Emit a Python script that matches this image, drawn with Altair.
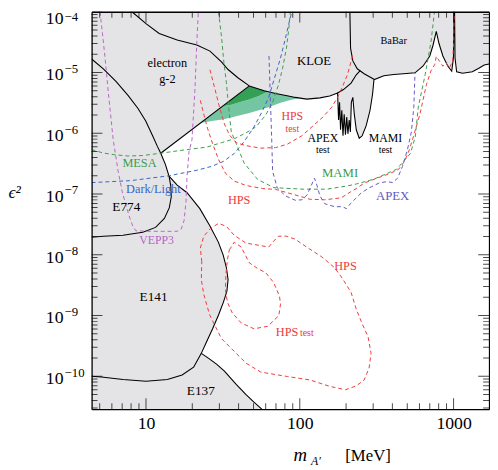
import json
import altair as alt
import pandas as pd

FONT = "Liberation Serif"
W = H = 404

X_MIN, X_MAX = 4.43, 1700.0
Y_MIN, Y_MAX = 2.87e-11, 1e-4

# ---------------- tick values / labels ----------------
x_major = [10, 100, 1000]
x_minor = [5, 6, 7, 8, 9, 20, 30, 40, 50, 60, 70, 80, 90,
           200, 300, 400, 500, 600, 700, 800, 900]
y_major = [1e-10, 1e-9, 1e-8, 1e-7, 1e-6, 1e-5, 1e-4]
y_major_exponents = ["−10", "−9", "−8", "−7", "−6", "−5", "−4"]
y_minor = [k * 10.0 ** e for e in range(-11, -4) for k in range(2, 10)
           if Y_MIN <= k * 10.0 ** e <= Y_MAX]

# ---------------- colours ----------------
GREY = "#e4e4e6"
RED = "#ee3a3a"
GREEN = "#3d9c4a"
BLUE = "#3565c5"
APEXC = "#6259c0"
MAG = "#b964c6"
DARK_GREEN = "#33a055"
LIGHT_GREEN = "#74c6a3"

# ---------------- allowed (white) region, three pieces ----------------
allowed_a_x = [12.47, 13.37, 14.12, 15.95, 18.49, 22.39, 25.94, 29.49, 31.74, 33.33, 34.17]
allowed_a_hi = [4.69e-7, 5.36e-7, 5.95e-7, 7.53e-7, 1.0e-6, 1.45e-6, 1.92e-6, 2.46e-6, 2.83e-6, 3.11e-6, 3.26e-6]
allowed_a_lo = [4.69e-7, 3.08e-7, 1.97e-7, 1.40e-7, 1.05e-7, 5.74e-8, 3.04e-8, 1.63e-8, 9.93e-9, 6.11e-9, 3.91e-9]

allowed_b_x = [22.89, 24.82, 27.11, 29.62, 31.88, 33.57, 34.17]
allowed_b_hi = [2.38e-10, 3.72e-10, 6.04e-10, 1.02e-9, 1.66e-9, 2.49e-9, 3.91e-9]
allowed_b_lo = [2.38e-10, 2.09e-10, 1.76e-10, 1.47e-10, 1.26e-10, 1.13e-10, 1.09e-10]

allowed_c_x = [34.17, 35.87, 38.61, 41.56, 44.74, 46.96, 50.34, 56.62, 58.58, 69.6,
               82.7, 93.5, 111.1, 135.1, 156.5, 176.1, 178.7, 181.4, 184.1, 187.6,
               191.0, 194.4, 198.2, 202.0, 205.6, 209.6, 213.3, 216.4, 221.3, 226.2,
               233.0, 243.5, 254.5, 269.9, 286.3, 297.1, 303.7, 351.9, 407.8, 472.5,
               561.3, 634.3, 700.3, 735.1, 771.8, 803.1, 851.9, 917.0, 972.5, 998.6,
               1006, 1015, 1022, 1047, 1144, 1325, 1469, 1582, 1702]
allowed_c_hi = [3.26e-6, 3.58e-6, 4.13e-6, 4.76e-6, 5.48e-6, 6.02e-6, 5.67e-6, 5.14e-6, 4.99e-6, 4.52e-6,
                4.14e-6, 3.89e-6, 3.65e-6, 3.82e-6, 4.11e-6, 4.60e-6, 1.65e-6, 3.23e-6, 1.14e-6, 2.39e-6,
                9.08e-7, 2.06e-6, 9.42e-7, 1.84e-6, 9.78e-7, 1.65e-6, 1.05e-6, 3.23e-6, 3.89e-6, 2.06e-6,
                1.14e-6, 8.27e-7, 9.08e-7, 1.32e-6, 2.39e-6, 4.35e-6, 7.61e-6, 8.84e-6, 9.28e-6, 9.53e-6,
                9.89e-6, 1.28e-5, 1.87e-5, 2.81e-5, 4.74e-5, 3.03e-5, 1.87e-5, 1.28e-5, 1.05e-5, 1.73e-5,
                1e-4, 1e-4, 1.73e-5, 1.03e-5, 9.71e-6, 1.03e-5, 1.19e-5, 1.33e-5, 1.38e-5]
allowed_c_lo = ([1.09e-10, 9.01e-11, 7.34e-11, 6.09e-11, 4.96e-11, 4.35e-11, 3.75e-11, 2.87e-11]
                + [Y_MIN] * (len(allowed_c_x) - 8))

# ---------------- muon g-2 favoured band ----------------
band_dark_x = [31.42, 35.87, 41.56, 46.96, 54.19, 61.85]
band_dark_hi = [2.77e-6, 3.58e-6, 4.76e-6, 6.02e-6, 5.34e-6, 4.85e-6]
band_dark_lo = [2.77e-6, 2.94e-6, 3.29e-6, 3.61e-6, 4.11e-6, 4.85e-6]
band_light_x = [22.59, 26.72, 31.42, 35.87, 41.56, 46.96, 54.19, 61.85, 74.93, 86.8, 100.7]
band_light_hi = [1.47e-6, 2.03e-6, 2.77e-6, 2.94e-6, 3.29e-6, 3.61e-6, 4.11e-6, 4.85e-6, 4.37e-6, 4.05e-6, 3.80e-6]
band_light_lo = [1.47e-6, 1.59e-6, 1.69e-6, 1.81e-6, 1.99e-6, 2.16e-6, 2.39e-6, 2.65e-6, 3.17e-6, 3.54e-6, 3.80e-6]

# ---------------- black outlines of excluded regions ----------------
left_bound_x = [4.43, 5.28, 6.40, 7.64, 8.85, 9.96, 11.04, 11.88, 12.47, 13.37, 14.12, 15.95, 18.49,
                22.39, 25.94, 29.49, 31.74, 33.33, 34.17, 33.57, 31.88, 29.62, 27.11, 24.82, 22.89,
                20.40, 17.17, 13.77, 10.0, 7.09, 5.13, 4.43]
left_bound_y = [1.67e-5, 1.15e-5, 7.07e-6, 4.19e-6, 2.58e-6, 1.59e-6, 9.08e-7, 6.02e-7, 4.69e-7, 3.08e-7,
                1.97e-7, 1.40e-7, 1.05e-7, 5.74e-8, 3.04e-8, 1.63e-8, 9.93e-9, 6.11e-9, 3.91e-9, 2.49e-9,
                1.66e-9, 1.02e-9, 6.04e-10, 3.72e-10, 2.38e-10, 1.41e-10, 1.05e-10, 8.85e-11, 8.27e-11,
                8.85e-11, 9.71e-11, 9.97e-11]
e774_x = [14.12, 14.50, 14.60, 14.18, 13.17, 11.54, 9.53, 7.09, 5.28, 4.43]
e774_y = [1.97e-7, 1.35e-7, 8.98e-8, 5.95e-8, 3.95e-8, 2.82e-8, 2.34e-8, 2.09e-8, 2.02e-8, 1.94e-8]
e137_x = [22.89, 25.56, 28.75, 32.36, 35.87, 38.61, 44.74, 50.34, 56.62]
e137_y = [2.38e-10, 1.97e-10, 1.58e-10, 1.21e-10, 9.01e-11, 7.34e-11, 4.96e-11, 3.75e-11, 2.87e-11]
g2_lower_x = [12.47, 46.96]
g2_lower_y = [4.69e-7, 6.02e-6]
g2_upper_x = [8.10, 10.0, 12.18, 15.95, 21.42, 26.06, 30.96, 34.17, 39.59, 46.96]
g2_upper_y = [1e-4, 6.39e-5, 4.40e-5, 3.42e-5, 2.84e-5, 2.25e-5, 1.49e-5, 1.12e-5, 8.20e-6, 6.02e-6]
babar_left_x = [211.7, 213.9, 221.3, 236.5, 262.1, 303.7]
babar_left_y = [1e-4, 2.51e-5, 1.55e-5, 1.15e-5, 9.53e-6, 7.76e-6]
kloe_edge_x = [176.1, 192.4, 215.5, 233.0, 247.1]
kloe_edge_y = [4.60e-6, 5.24e-6, 6.68e-6, 9.18e-6, 1.07e-5]

# ---------------- dashed projections ----------------
vepp3_x = [5.02, 5.21, 5.42, 5.69, 6.12, 6.59, 6.99, 7.42, 7.87, 8.22, 8.59, 10.25, 12.79, 15.95,
           16.92, 17.69, 18.22, 18.49, 19.04, 19.90, 20.80, 21.42, 21.90]
vepp3_y = [1e-4, 4.40e-5, 1.73e-5, 4.69e-6, 7.82e-7, 2.37e-7, 1.12e-7, 6.41e-8, 3.95e-8, 2.93e-8,
           2.48e-8, 2.43e-8, 2.43e-8, 2.43e-8, 2.62e-8, 3.66e-8, 7.74e-8, 1.97e-7, 4.99e-7, 7.82e-7,
           5.05e-6, 3.26e-5, 1e-4]
mesa_x = [4.43, 5.28, 6.30, 7.64, 9.53, 12.47, 17.43, 24.82, 30.96, 37.49, 44.74, 51.83, 60.06,
          66.59, 72.75, 77.17, 81.85, 84.9, 86.8]
mesa_y = [5.38e-7, 4.72e-7, 4.42e-7, 4.22e-7, 4.30e-7, 4.69e-7, 5.28e-7, 5.91e-7, 6.99e-7, 8.11e-7,
          1.015e-6, 1.27e-6, 1.99e-6, 3.23e-6, 6.32e-6, 1.15e-5, 2.51e-5, 5.30e-5, 1e-4]
darklight_x = [4.43, 7.98, 14.18, 21.42, 26.72, 31.88, 37.49, 43.44, 50.34, 56.62, 62.77, 68.58,
               74.93, 80.65, 85.5, 88.8]
darklight_y = [1.54e-7, 1.66e-7, 2.00e-7, 2.46e-7, 2.85e-7, 3.44e-7, 4.64e-7, 7.26e-7, 1.27e-6,
               2.22e-6, 3.89e-6, 8.20e-6, 1.73e-5, 3.65e-5, 6.89e-5, 1e-4]
mami_x = [29.62, 30.96, 32.12, 33.33, 34.32, 35.87, 38.61, 43.44, 53.17, 67.87, 105.1, 149.7, 201.1,
          233.0, 303.7, 426.1, 523.9, 563.8, 589.3, 653.3, 713.8, 751.6]
mami_y = [1e-4, 3.93e-5, 1.44e-5, 6.81e-6, 3.0e-6, 1.05e-6, 6.73e-7, 3.23e-7, 1.74e-7, 1.27e-7,
          1.20e-7, 1.20e-7, 1.35e-7, 1.46e-7, 1.76e-7, 2.55e-7, 4.64e-7, 8.74e-7, 2.68e-6, 9.18e-6,
          3.26e-5, 1e-4]
apex_x = [63.06, 64.18, 65.62, 66.59, 71.37, 80.65, 93.5, 103.6, 111.5, 118.3, 124.6, 129.2, 135.1,
          145.4, 168.5, 189.6, 201.1, 213.3, 229.6, 250.8, 282.2, 326.9, 367.8, 401.8, 432.5, 465.6,
          501.2, 531.6, 551.5, 561.3]
apex_y = [1.87e-5, 4.69e-6, 8.74e-7, 2.37e-7, 1.26e-7, 9.32e-8, 7.88e-8, 8.03e-8, 9.67e-8, 1.35e-7,
          1.82e-7, 1.40e-7, 9.32e-8, 6.91e-8, 6.18e-8, 6.18e-8, 5.74e-8, 6.91e-8, 8.33e-8, 1.04e-7,
          1.26e-7, 1.51e-7, 1.60e-7, 1.54e-7, 1.82e-7, 2.85e-7, 5.38e-7, 1.05e-6, 2.68e-6, 9.89e-6]
hps_test_x = [26.06, 27.92, 30.06, 32.36, 34.83, 38.61, 44.74, 55.8, 69.6, 83.05, 103.1, 121.8,
              141.2, 161.2, 176.1, 189.6, 204.1, 213.3, 220.6]
hps_test_y = [1.11e-5, 5.65e-6, 2.68e-6, 1.42e-6, 9.42e-7, 6.99e-7, 6.25e-7, 5.69e-7, 5.80e-7,
              6.61e-7, 9.08e-7, 1.32e-6, 1.84e-6, 2.68e-6, 3.89e-6, 5.87e-6, 9.18e-6, 1.38e-5, 1.87e-5]
hps_x = [22.56, 23.75, 25.19, 27.11, 29.62, 32.84, 37.49, 44.74, 57.21, 69.6, 90.7, 116.6, 145.4,
         186.0, 213.3, 233.0, 262.1, 317.4, 390.2, 438.9, 479.5, 516.2, 547.5, 604.2, 666.0, 713.8,
         753.9, 771.8, 811.4, 851.9, 894.4, 940.3, 986.9, 1001.6, 1009]
hps_y = [3.48e-6, 2.06e-6, 1.18e-6, 6.73e-7, 3.71e-7, 2.20e-7, 1.63e-7, 1.38e-7, 1.23e-7, 1.19e-7,
         9.85e-8, 8.18e-8, 8.03e-8, 8.65e-8, 1.08e-7, 1.23e-7, 1.51e-7, 1.82e-7, 2.20e-7, 2.55e-7,
         3.44e-7, 5.38e-7, 8.74e-7, 2.06e-6, 6.32e-6, 1.07e-5, 1.35e-5, 1.84e-5, 1.53e-5, 1.27e-5,
         1.44e-5, 1.19e-5, 1.55e-5, 3.26e-5, 1e-4]
hps_reach_x = [23.06, 22.56, 23.75, 26.33, 29.62, 33.33, 37.49, 44.74, 53.42, 62.77, 67.58, 72.75,
               81.85, 93.5, 108.3, 139.1, 168.5, 189.6, 215.5, 233.0, 254.5, 278.0, 290.6, 282.2,
               262.1, 233.0, 198.2, 156.5, 116.6, 83.05, 55.8, 44.74, 38.61, 30.96, 25.94, 23.75,
               22.89, 23.06]
hps_reach_y = [7.64e-9, 1.29e-8, 2.02e-8, 2.72e-8, 3.28e-8, 2.93e-8, 2.09e-8, 1.55e-8, 1.44e-8,
               1.34e-8, 1.67e-8, 2.02e-8, 2.02e-8, 1.80e-8, 1.39e-8, 9.21e-9, 6.11e-9, 4.05e-9,
               2.40e-9, 1.27e-9, 7.29e-10, 4.48e-10, 2.38e-10, 1.36e-10, 8.68e-11, 6.94e-11,
               5.98e-11, 6.81e-11, 8.68e-11, 9.89e-11, 1.17e-10, 1.64e-10, 2.38e-10, 4.16e-10,
               1.02e-9, 2.23e-9, 3.91e-9, 7.64e-9]
hps_test_reach_x = [34.83, 37.49, 41.56, 46.96, 53.42, 60.06, 67.58, 73.83, 74.93, 73.07, 61.85,
                    50.34, 41.56, 36.40, 33.82, 32.84, 33.08, 33.82, 34.83]
hps_test_reach_y = [1.20e-8, 1.61e-8, 1.34e-8, 7.37e-9, 5.89e-9, 5.07e-9, 3.49e-9, 2.07e-9, 1.54e-9,
                    9.93e-10, 6.64e-10, 6.04e-10, 7.56e-10, 1.10e-9, 1.66e-9, 2.69e-9, 4.71e-9,
                    8.24e-9, 1.20e-8]

# ---------------- labels ----------------
label_text = ["electron", "g-2", "KLOE", "BaBar", "APEX", "test", "MAMI", "test", "HPS", "test",
              "MESA", "Dark/Light", "E774", "VEPP3", "E141", "E137", "HPS", "MAMI", "APEX", "HPS",
              "HPS", "test"]
label_x = [13.77, 13.77, 123.7, 407.8, 141.2, 141.2, 360.8, 360.8, 89.4, 89.4,
           9.07, 11.17, 7.45, 11.71, 11.2, 22.72, 40.36, 182.7, 401.8, 198.2,
           82.7, 111.1]
label_y = [1.44e-5, 7.90e-6, 1.55e-5, 3.32e-5, 8.42e-7, 5.19e-7, 8.42e-7, 5.19e-7, 1.91e-6, 1.16e-6,
           3.23e-7, 1.20e-7, 6.07e-8, 1.74e-8, 2.0e-9, 5.76e-11, 8.03e-8, 2.24e-7, 9.32e-8, 6.59e-9,
           5.40e-10, 5.20e-10]
label_color = ["black", "black", "black", "black", "black", "black", "black", "black", RED, RED,
               GREEN, BLUE, "black", MAG, "black", "black", RED, GREEN, APEXC, RED,
               RED, RED]
label_size = [12.5, 12.5, 13, 10.5, 12, 10, 12, 10, 12, 10,
              12.5, 12.5, 13.5, 12, 13.5, 13.5, 12.5, 13, 13, 12.5,
              12.5, 10]

# ---------------- frames ----------------
def area_frame(pieces):
    rows = []
    for name, (xv, hi, lo) in pieces.items():
        for a, b, c in zip(xv, hi, lo):
            rows.append({"piece": name, "x": a, "hi": b, "lo": c})
    return pd.DataFrame(rows)


def line_frame(series):
    rows = []
    for name, (xv, yv) in series.items():
        for i, (a, b) in enumerate(zip(xv, yv)):
            rows.append({"series": name, "order": i, "x": a, "y": b})
    return pd.DataFrame(rows)


white_df = area_frame({
    "a": (allowed_a_x, allowed_a_hi, allowed_a_lo),
    "b": (allowed_b_x, allowed_b_hi, allowed_b_lo),
    "c": (allowed_c_x, allowed_c_hi, allowed_c_lo),
})
light_df = area_frame({"light": (band_light_x, band_light_hi, band_light_lo)})
dark_df = area_frame({"dark": (band_dark_x, band_dark_hi, band_dark_lo)})

black_df = line_frame({
    "left": (left_bound_x, left_bound_y),
    "e774": (e774_x, e774_y),
    "e137": (e137_x, e137_y),
    "g2lo": (g2_lower_x, g2_lower_y),
    "g2up": (g2_upper_x, g2_upper_y),
    "envelope": (allowed_c_x[5:], allowed_c_hi[5:]),
    "babar": (babar_left_x, babar_left_y),
    "kloe": (kloe_edge_x, kloe_edge_y),
})

dash_names = ["VEPP3", "MESA", "DarkLight", "MAMI", "APEX", "HPS test", "HPS",
              "HPS reach", "HPS test reach"]
dash_colors = [MAG, GREEN, BLUE, GREEN, APEXC, RED, RED, RED, RED]
dash_df = line_frame({
    "VEPP3": (vepp3_x, vepp3_y),
    "MESA": (mesa_x, mesa_y),
    "DarkLight": (darklight_x, darklight_y),
    "MAMI": (mami_x, mami_y),
    "APEX": (apex_x, apex_y),
    "HPS test": (hps_test_x, hps_test_y),
    "HPS": (hps_x, hps_y),
    "HPS reach": (hps_reach_x, hps_reach_y),
    "HPS test reach": (hps_test_reach_x, hps_test_reach_y),
})

label_df = pd.DataFrame({"text": label_text, "x": label_x, "y": label_y,
                         "color": label_color, "size": label_size})

# tick marks (double length, centred on the frame, clipped to the plot => inward ticks)
MAJOR_LEN, MINOR_LEN = 11, 6
xtick_df = pd.DataFrame({"v": x_major + x_minor,
                         "len": [2 * MAJOR_LEN] * len(x_major) + [2 * MINOR_LEN] * len(x_minor)})
ytick_df = pd.DataFrame({"v": y_major + y_minor,
                         "len": [2 * MAJOR_LEN] * len(y_major) + [2 * MINOR_LEN] * len(y_minor)})

# ---------------- scales & axes ----------------
xs = alt.Scale(type="log", domain=[X_MIN, X_MAX], nice=False)
ys = alt.Scale(type="log", domain=[Y_MIN, Y_MAX], nice=False)

ax_x_lab = alt.Axis(orient="bottom", values=x_major, format="d", ticks=False, tickSize=0,
                    domain=True, domainColor="black", domainWidth=1.3, grid=False,
                    labelFont=FONT, labelFontSize=18, labelPadding=6,
                    labelColor="black", labelFlush=False, labelOverlap=False, title=None, zindex=2)

ax_y_base = alt.Axis(orient="left", values=y_major, labelExpr="'10'", ticks=False, tickSize=0,
                     domain=True, domainColor="black", domainWidth=1.3, grid=False,
                     labelFont=FONT, labelFontSize=18, labelAlign="left",
                     labelBaseline="middle", labelPadding=47,
                     labelOffset={"condition": {"test": "datum.value > 5e-5", "value": 6.5}, "value": 2.5},
                     labelColor="black", labelFlush=False, labelOverlap=False,
                     title="ϵ²", titleAngle=0, titleAlign="left", titleBaseline="middle",
                     titleX=-85, titleY=184, titleFont=FONT, titleFontSize=18,
                     titleFontStyle="italic", titleFontWeight="normal", titleColor="black", zindex=2)

exp_expr = json.dumps(y_major_exponents, ensure_ascii=False) + "[round(log(datum.value)/LN10) + 10]"
ax_y_exp = alt.Axis(orient="left", values=y_major, labelExpr=exp_expr, ticks=False, tickSize=0,
                    domain=False, grid=False, labelFont=FONT, labelFontSize=13, labelAlign="left",
                    labelBaseline="middle", labelPadding=28,
                    labelOffset={"condition": {"test": "datum.value > 5e-5", "value": 5}, "value": -4},
                    labelColor="black", labelFlush=False, labelOverlap=False, title=None, zindex=2)

ax_top_frame = alt.Axis(orient="top", ticks=False, labels=False, domain=True, domainColor="black",
                        domainWidth=1.3, grid=False, title=None, zindex=2)
ax_right_frame = alt.Axis(orient="right", ticks=False, labels=False, domain=True, domainColor="black",
                          domainWidth=1.3, grid=False, title=None, zindex=2)

# ---------------- layers ----------------
white = alt.Chart(white_df).mark_area(color="white", opacity=1, clip=True, strokeWidth=0).encode(
    x=alt.X("x:Q", scale=xs, axis=ax_x_lab),
    y=alt.Y("hi:Q", scale=ys, axis=ax_y_base, stack=None),
    y2="lo:Q",
    detail="piece:N",
)

green_light = alt.Chart(light_df).mark_area(color=LIGHT_GREEN, opacity=1, clip=True).encode(
    x=alt.X("x:Q", scale=xs, axis=ax_top_frame),
    y=alt.Y("hi:Q", scale=ys, axis=ax_y_exp, stack=None),
    y2="lo:Q",
)

green_dark = alt.Chart(dark_df).mark_area(color=DARK_GREEN, opacity=1, clip=True).encode(
    x=alt.X("x:Q", scale=xs, axis=None),
    y=alt.Y("hi:Q", scale=ys, axis=ax_right_frame, stack=None),
    y2="lo:Q",
)

black_lines = alt.Chart(black_df).mark_line(color="black", strokeWidth=1.1, clip=True).encode(
    x=alt.X("x:Q", scale=xs, axis=None),
    y=alt.Y("y:Q", scale=ys, axis=None),
    detail="series:N",
    order="order:Q",
)

dashed = alt.Chart(dash_df).mark_line(strokeDash=[4, 3], strokeWidth=1, clip=True).encode(
    x=alt.X("x:Q", scale=xs, axis=None),
    y=alt.Y("y:Q", scale=ys, axis=None),
    color=alt.Color("series:N", scale=alt.Scale(domain=dash_names, range=dash_colors), legend=None),
    detail="series:N",
    order="order:Q",
)

labels = alt.Chart(label_df).mark_text(font=FONT, align="center", baseline="middle").encode(
    x=alt.X("x:Q", scale=xs, axis=None),
    y=alt.Y("y:Q", scale=ys, axis=None),
    text="text:N",
    color=alt.Color("color:N", scale=None),
    size=alt.Size("size:Q", scale=None),
)

xticks_bottom = alt.Chart(xtick_df).mark_tick(orient="vertical", thickness=1, color="black", clip=True).encode(
    x=alt.X("v:Q", scale=xs, axis=None), y=alt.value(H), size=alt.Size("len:Q", scale=None))
xticks_top = alt.Chart(xtick_df).mark_tick(orient="vertical", thickness=1, color="black", clip=True).encode(
    x=alt.X("v:Q", scale=xs, axis=None), y=alt.value(0), size=alt.Size("len:Q", scale=None))
yticks_left = alt.Chart(ytick_df).mark_tick(orient="horizontal", thickness=1, color="black", clip=True).encode(
    y=alt.Y("v:Q", scale=ys, axis=None), x=alt.value(0), size=alt.Size("len:Q", scale=None))
yticks_right = alt.Chart(ytick_df).mark_tick(orient="horizontal", thickness=1, color="black", clip=True).encode(
    y=alt.Y("v:Q", scale=ys, axis=None), x=alt.value(W), size=alt.Size("len:Q", scale=None))

t_m = alt.Chart(pd.DataFrame({"t": ["m"]})).mark_text(
    font=FONT, fontSize=19, fontStyle="italic", align="center", baseline="middle", color="black"
).encode(text="t:N", x=alt.value(212), y=alt.value(451))
t_a = alt.Chart(pd.DataFrame({"t": ["A′"]})).mark_text(
    font=FONT, fontSize=12, fontStyle="italic", align="center", baseline="middle", color="black"
).encode(text="t:N", x=alt.value(228), y=alt.value(457))
t_mev = alt.Chart(pd.DataFrame({"t": ["[MeV]"]})).mark_text(
    font=FONT, fontSize=17, align="center", baseline="middle", color="black"
).encode(text="t:N", x=alt.value(281), y=alt.value(452))

chart = alt.layer(
    white, green_light, green_dark, black_lines, dashed, labels,
    xticks_bottom, xticks_top, yticks_left, yticks_right, t_m, t_a, t_mev
).resolve_axis(
    x="independent", y="independent"
).properties(
    width=W, height=H,
    autosize=alt.AutoSizeParams(type="none"),
    padding={"left": 85, "top": 0, "right": 1, "bottom": 56},
).configure_view(fill=GREY, stroke=None)

chart.save("out.html", embed_options={"renderer": "svg", "actions": False})
